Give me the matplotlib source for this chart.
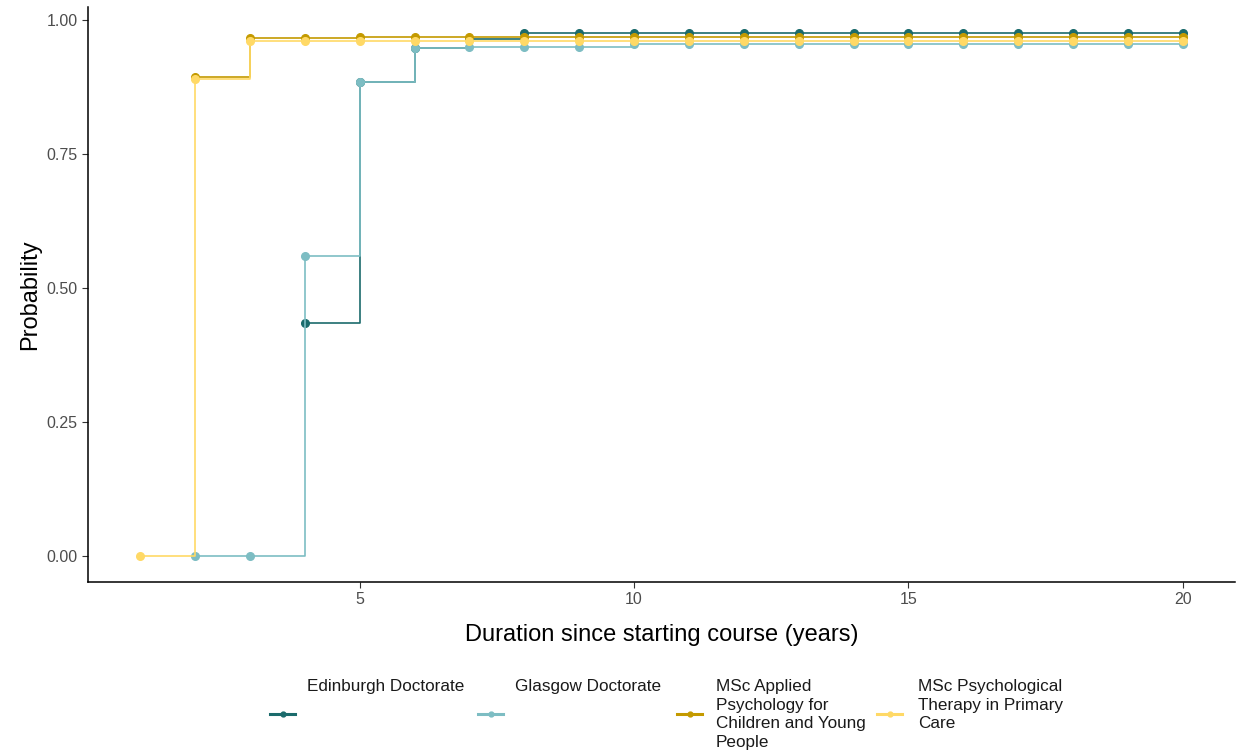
import matplotlib.pyplot as plt
from matplotlib.lines import Line2D

plt.rcParams['font.family'] = ['Liberation Sans', 'DejaVu Sans']

# cumulative probability of completion by year since start
years_edin = [4, 5, 6, 7, 8, 9, 10, 11, 12, 13, 14, 15, 16, 17, 18, 19, 20]
prob_edin = [0.435, 0.884, 0.948, 0.965, 0.976, 0.976, 0.976, 0.976, 0.976,
             0.976, 0.976, 0.976, 0.976, 0.976, 0.976, 0.976, 0.976]

years_glas = [2, 3, 4, 5, 6, 7, 8, 9, 10, 11, 12, 13, 14, 15, 16, 17, 18, 19, 20]
prob_glas = [0.0, 0.0, 0.56, 0.884, 0.948, 0.950, 0.950, 0.950, 0.956, 0.956,
             0.956, 0.956, 0.956, 0.956, 0.956, 0.956, 0.956, 0.956, 0.956]

years_cyp = [2, 3, 4, 5, 6, 7, 8, 9, 10, 11, 12, 13, 14, 15, 16, 17, 18, 19, 20]
prob_cyp = [0.895, 0.966, 0.966, 0.968, 0.968, 0.969, 0.969, 0.969, 0.969, 0.969,
            0.969, 0.969, 0.969, 0.969, 0.969, 0.969, 0.969, 0.969, 0.969]

years_ptpc = [1, 2, 3, 4, 5, 6, 7, 8, 9, 10, 11, 12, 13, 14, 15, 16, 17, 18, 19, 20]
prob_ptpc = [0.0, 0.89, 0.962, 0.962, 0.962, 0.962, 0.962, 0.962, 0.962, 0.962,
             0.962, 0.962, 0.962, 0.962, 0.962, 0.962, 0.962, 0.962, 0.962, 0.962]

programmes = ['Edinburgh Doctorate', 'Glasgow Doctorate',
              'MSc Applied\nPsychology for\nChildren and Young\nPeople',
              'MSc Psychological\nTherapy in Primary\nCare']
colours = ['#1b6b6c', '#7dbdc3', '#c49a00', '#ffd966']
series = [(years_edin, prob_edin), (years_glas, prob_glas),
          (years_cyp, prob_cyp), (years_ptpc, prob_ptpc)]

W, H = 1238, 756
fig = plt.figure(figsize=(W / 100, H / 100), dpi=100)
ax = fig.add_axes([88 / W, 1 - 582 / H, (1235 - 88) / W, (582 - 7) / H])

for (x, y), col in zip(series, colours):
    ax.step(x, y, where='post', color=col, lw=1.2)
    ax.plot(x, y, 'o', color=col, ms=5.5, mec=col)

ax.set_xlim(0.05, 20.95)
ax.set_ylim(-0.0488, 1.0248)
ax.set_xticks([5, 10, 15, 20])
ax.set_yticks([0, 0.25, 0.5, 0.75, 1.0])
ax.set_yticklabels(['0.00', '0.25', '0.50', '0.75', '1.00'])
ax.tick_params(colors='#333333', labelcolor='#4d4d4d', labelsize=11.5, length=4, width=0.8)
for s in ['top', 'right']:
    ax.spines[s].set_visible(False)
for s in ['left', 'bottom']:
    ax.spines[s].set_linewidth(1.1)
ax.set_xlabel('Duration since starting course (years)', fontsize=17, labelpad=12)
ax.set_ylabel('Probability', fontsize=17, labelpad=4)

# legend laid out underneath, label text above each key
key_x = [270, 478, 677, 877]
text_x = [307, 515, 716, 918]
for kx, tx, lab, col in zip(key_x, text_x, programmes, colours):
    ky = 1 - 714 / H
    fig.add_artist(Line2D([kx / W, (kx + 25) / W], [ky, ky], color=col, lw=2.2,
                          transform=fig.transFigure))
    fig.add_artist(Line2D([(kx + 12.5) / W], [ky], marker='o', ms=3.5, color=col,
                          transform=fig.transFigure))
    fig.text(tx / W, 1 - 679 / H, lab, fontsize=12.3, va='top', ha='left',
             linespacing=1.3, color='#1a1a1a')

fig.savefig('out.png', dpi=100)
